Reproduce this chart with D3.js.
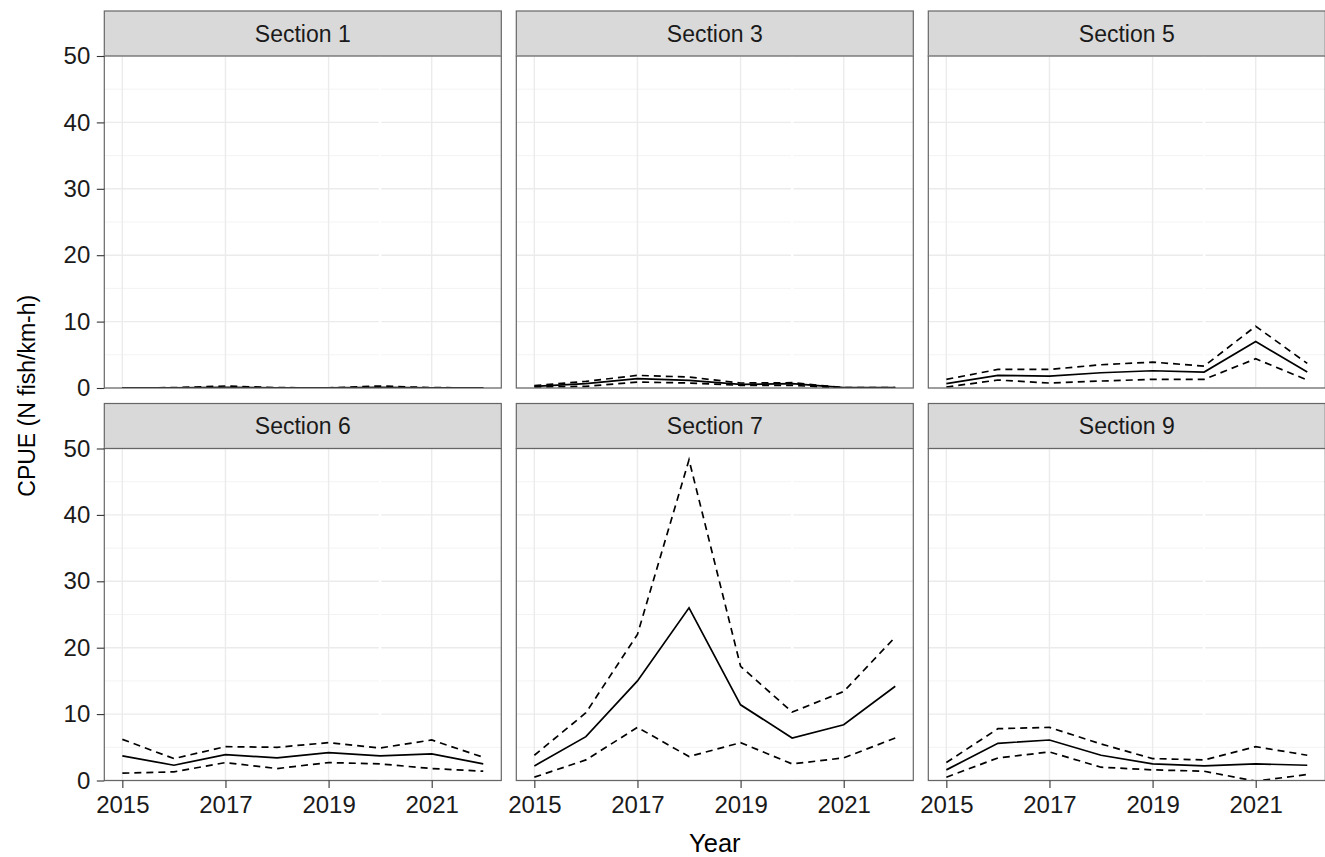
<!DOCTYPE html>
<html>
<head>
<meta charset="utf-8">
<script src="https://cdn.jsdelivr.net/npm/d3@7"></script>
<style>
  html, body { margin: 0; padding: 0; background: #fff; }
  svg { display: block; font-family: "Liberation Sans", Arial, sans-serif; }
</style>
</head>
<body>
<svg id="chart" width="1325" height="857"></svg>
<script>
// Survey years and river sections
const years = [2015, 2016, 2017, 2018, 2019, 2020, 2021, 2022];
const sections = ["Section 1", "Section 3", "Section 5", "Section 6", "Section 7", "Section 9"];

// Mean CPUE per section (N fish/km-h)
const meanSec1 = [0.02, 0.03, 0.1, 0.02, 0.02, 0.1, 0.02, 0.02];
const meanSec3 = [0.25, 0.65, 1.4, 1.15, 0.55, 0.65, 0.05, 0.05];
const meanSec5 = [0.65, 1.9, 1.8, 2.3, 2.6, 2.4, 7.0, 2.4];
const meanSec6 = [3.7, 2.3, 3.9, 3.4, 4.2, 3.7, 4.0, 2.5];
const meanSec7 = [2.2, 6.6, 15.0, 26.0, 11.4, 6.4, 8.4, 14.2];
const meanSec9 = [1.6, 5.6, 6.1, 3.8, 2.5, 2.2, 2.5, 2.3];

// Upper confidence bound
const upperSec1 = [0.02, 0.05, 0.3, 0.05, 0.02, 0.3, 0.05, 0.02];
const upperSec3 = [0.35, 1.0, 1.9, 1.65, 0.75, 0.8, 0.05, 0.05];
const upperSec5 = [1.3, 2.8, 2.8, 3.5, 3.9, 3.3, 9.3, 3.7];
const upperSec6 = [6.2, 3.3, 5.1, 5.0, 5.7, 4.9, 6.1, 3.5];
const upperSec7 = [3.8, 10.2, 22.0, 48.3, 17.2, 10.3, 13.4, 21.6];
const upperSec9 = [2.7, 7.8, 8.0, 5.5, 3.3, 3.1, 5.1, 3.8];

// Lower confidence bound
const lowerSec1 = [0, 0, 0, 0, 0, 0, 0, 0];
const lowerSec3 = [0.15, 0.25, 0.9, 0.75, 0.4, 0.4, 0, 0];
const lowerSec5 = [0.15, 1.2, 0.75, 1.05, 1.3, 1.3, 4.4, 1.2];
const lowerSec6 = [1.1, 1.3, 2.7, 1.8, 2.7, 2.5, 1.8, 1.4];
const lowerSec7 = [0.5, 3.1, 8.0, 3.6, 5.7, 2.5, 3.4, 6.4];
const lowerSec9 = [0.5, 3.4, 4.3, 2.0, 1.6, 1.4, -0.1, 0.9];

// Axis breaks
const xBreaks = [2015, 2017, 2019, 2021];
const xMinor = [2016, 2018, 2020, 2022];
const yBreaks = [0, 10, 20, 30, 40, 50];
const yMinor = [5, 15, 25, 35, 45];

const meanSeries = [meanSec1, meanSec3, meanSec5, meanSec6, meanSec7, meanSec9];
const upperSeries = [upperSec1, upperSec3, upperSec5, upperSec6, upperSec7, upperSec9];
const lowerSeries = [lowerSec1, lowerSec3, lowerSec5, lowerSec6, lowerSec7, lowerSec9];

// Facet layout
const panelW = 397, panelH = 332, stripH = 45;
const colLeft = [104.3, 516.3, 928.3];
const rowTop = [11, 403.5];
const tickFont = 24, stripFont = 23;

const svg = d3.select("#chart");

const pad = (2022 - 2015) * 0.05;
const x = d3.scaleLinear().domain([2015 - pad, 2022 + pad]).range([0, panelW]);
const y = d3.scaleLinear().domain([0, 50]).range([panelH, 0]);

const line = d3.line().x((d, i) => x(years[i])).y(d => y(d));

const defs = svg.append("defs");
defs.append("clipPath").attr("id", "panelClip")
  .append("rect").attr("x", 0).attr("y", 0).attr("width", panelW).attr("height", panelH);

sections.forEach((name, k) => {
  const col = k % 3, row = Math.floor(k / 3);
  const g = svg.append("g")
    .attr("transform", `translate(${colLeft[col]},${rowTop[row]})`);

  // strip
  g.append("rect")
    .attr("x", 0).attr("y", 0).attr("width", panelW).attr("height", stripH)
    .attr("fill", "#d9d9d9").attr("stroke", "#666").attr("stroke-width", 1.2);
  g.append("text")
    .attr("x", panelW / 2).attr("y", 30.7)
    .attr("text-anchor", "middle")
    .attr("font-size", stripFont)
    .attr("fill", "#1a1a1a")
    .text(name);

  const p = g.append("g").attr("transform", `translate(0,${stripH})`);

  p.append("rect").attr("width", panelW).attr("height", panelH).attr("fill", "#fff");

  // grid
  p.selectAll(".ymin").data(yMinor).join("line")
    .attr("x1", 0).attr("x2", panelW)
    .attr("y1", d => y(d)).attr("y2", d => y(d))
    .attr("stroke", "#f3f3f3").attr("stroke-width", 1);
  p.selectAll(".ymaj").data(yBreaks).join("line")
    .attr("x1", 0).attr("x2", panelW)
    .attr("y1", d => y(d)).attr("y2", d => y(d))
    .attr("stroke", "#ebebeb").attr("stroke-width", 1.4);
  p.selectAll(".xmin").data(xMinor.filter(d => d === 2020)).join("line")
    .attr("x1", d => x(d)).attr("x2", d => x(d))
    .attr("y1", 0).attr("y2", panelH)
    .attr("stroke", "#fff").attr("stroke-width", 2.5);
  p.selectAll(".xmaj").data(xBreaks).join("line")
    .attr("x1", d => x(d)).attr("x2", d => x(d))
    .attr("y1", 0).attr("y2", panelH)
    .attr("stroke", "#ebebeb").attr("stroke-width", 1.4);

  // data lines
  const lines = p.append("g").attr("clip-path", "url(#panelClip)");
  [upperSeries[k], lowerSeries[k]].forEach(s => {
    lines.append("path").datum(s)
      .attr("d", line)
      .attr("fill", "none").attr("stroke", "#000")
      .attr("stroke-width", 1.7)
      .attr("stroke-dasharray", "7,5");
  });
  lines.append("path").datum(meanSeries[k])
    .attr("d", line)
    .attr("fill", "none").attr("stroke", "#000")
    .attr("stroke-width", 1.7);

  // border
  p.append("rect").attr("width", panelW).attr("height", panelH)
    .attr("fill", "none").attr("stroke", "#666").attr("stroke-width", 1.2);

  // y axis on left column
  if (col === 0) {
    const ya = p.append("g")
      .call(d3.axisLeft(y).tickValues(yBreaks).tickSize(7.5).tickPadding(6.5).tickFormat(d3.format("d")));
    ya.select(".domain").remove();
    ya.selectAll("line").attr("stroke", "#333").attr("stroke-width", 1.1);
    ya.selectAll("text").attr("font-size", tickFont).attr("fill", "#1a1a1a")
      .attr("font-family", "Liberation Sans, Arial, sans-serif");
  }
  // x axis on bottom row
  if (row === 1) {
    const xa = p.append("g").attr("transform", `translate(0,${panelH})`)
      .call(d3.axisBottom(x).tickValues(xBreaks).tickSize(7.5).tickPadding(7.5).tickFormat(d3.format("d")));
    xa.select(".domain").remove();
    xa.selectAll("line").attr("stroke", "#333").attr("stroke-width", 1.1);
    xa.selectAll("text").attr("font-size", tickFont).attr("fill", "#1a1a1a")
      .attr("font-family", "Liberation Sans, Arial, sans-serif");
  }
});

// axis titles
svg.append("text")
  .attr("x", (colLeft[0] + colLeft[2] + panelW) / 2).attr("y", 851.5)
  .attr("text-anchor", "middle").attr("font-size", 25.5).attr("fill", "#000")
  .text("Year");
svg.append("text")
  .attr("transform", `translate(35,${(rowTop[0] + rowTop[1] + stripH + panelH) / 2}) rotate(-90)`)
  .attr("text-anchor", "middle").attr("font-size", 23).attr("fill", "#000")
  .text("CPUE (N fish/km-h)");
</script>
</body>
</html>
